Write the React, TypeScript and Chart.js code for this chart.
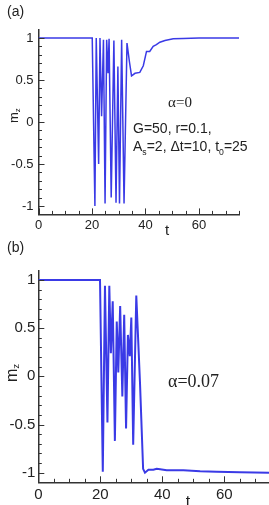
import React, { useEffect, useRef } from 'react';
import { Chart, registerables } from 'chart.js';

Chart.register(...registerables);

// ---- data: panel (a), alpha = 0 ----
const tA = [0, 20.1, 21.1, 21.6, 22.5, 23.0, 23.6, 24.3, 24.9, 25.5, 26.0, 26.4, 27.2, 28.2, 29.0, 29.7, 30.3, 31.1, 32.0, 33.1, 34.0, 34.8, 36.1, 37.9, 39.2, 40.4, 41.6, 42.9, 44.1, 45.4, 47.3, 50.4, 54.1, 60, 75];
const mA = [1, 1, -1.0, 1.0, -0.5, 1.0, 0.07, 0.98, -0.97, 0.98, 0.58, 0.99, -0.9, 0.97, -0.96, 0.66, -0.97, 0.98, -0.97, 0.94, 0.72, 0.55, 0.58, 0.59, 0.67, 0.84, 0.84, 0.9, 0.92, 0.95, 0.97, 0.99, 0.995, 1, 1];

// ---- data: panel (b), alpha = 0.07 ----
const tB = [0, 19.9, 20.8, 21.5, 22.3, 22.9, 23.4, 24.0, 24.7, 25.3, 25.8, 26.4, 27.1, 27.7, 28.3, 28.9, 29.5, 30.0, 30.6, 31.6, 32.8, 33.8, 34.4, 35.5, 37.1, 38.2, 39.3, 41.4, 46.8, 52.2, 57.5, 65, 74.4];
const mB = [1, 1, -0.99, 0.94, -0.48, 0.94, 0.24, 0.78, -0.67, 0.57, 0.04, 0.73, -0.21, 0.64, -0.54, 0.43, 0.21, 0.61, -0.71, 0.84, -0.07, -0.96, -1.0, -0.97, -0.97, -0.96, -0.965, -0.975, -0.975, -0.985, -0.99, -0.995, -1.0];

const xTicks = [0, 20, 40, 60];
const yTicks = [-1, -0.5, 0, 0.5, 1];

const LINE = '#3a3ae6';
const AXIS = '#333333';
const TXT = '#222222';
const SANS = '"Liberation Sans", Arial, Helvetica, sans-serif';
const SERIF = '"Liberation Serif", "Times New Roman", "DejaVu Serif", serif';

type Part = [string, boolean?];

function drawRich(ctx: CanvasRenderingContext2D, parts: Part[], x: number, y: number, size: number, family: string, align: 'left' | 'center' = 'left', subOff = 0.25) {
  const subSize = size * 0.62;
  let w = 0;
  for (const [s, sub] of parts) {
    ctx.font = `${sub ? subSize : size}px ${family}`;
    w += ctx.measureText(s).width;
  }
  let cx = align === 'center' ? x - w / 2 : x;
  ctx.textAlign = 'left';
  ctx.textBaseline = 'alphabetic';
  for (const [s, sub] of parts) {
    ctx.font = `${sub ? subSize : size}px ${family}`;
    ctx.fillText(s, cx, sub ? y + size * subOff : y);
    cx += ctx.measureText(s).width;
  }
}

const inwardTicks = {
  id: 'inwardTicks',
  afterDatasetsDraw(chart: any) {
    const { ctx, chartArea: a, scales } = chart;
    const x = scales.x;
    const y = scales.y;
    ctx.save();
    ctx.strokeStyle = AXIS;
    ctx.lineWidth = 1;
    ctx.beginPath();
    for (let i = 0; i * 5 <= x.max + 1e-9; i++) {
      const v = i * 5;
      const px = Math.round(x.getPixelForValue(v)) + 0.5;
      const len = v % 20 === 0 ? 6 : 3.5;
      ctx.moveTo(px, a.bottom);
      ctx.lineTo(px, a.bottom - len);
    }
    for (let i = -10; i <= 10; i++) {
      const v = i / 10;
      const py = Math.round(y.getPixelForValue(v)) + 0.5;
      const len = i % 5 === 0 ? 6 : 3.5;
      ctx.moveTo(a.left, py);
      ctx.lineTo(a.left + len, py);
    }
    ctx.stroke();
    ctx.restore();
  },
};

function makeConfig(t: number[], m: number[], o: any) {
  return {
    type: 'line',
    data: {
      datasets: [
        {
          data: t.map((v, i) => ({ x: v, y: m[i] })),
          borderColor: LINE,
          borderWidth: o.lw,
          pointRadius: 0,
          tension: 0,
          fill: false,
        },
      ],
    },
    options: {
      animation: false,
      responsive: false,
      maintainAspectRatio: false,
      layout: { padding: o.padding },
      plugins: { legend: { display: false }, tooltip: { enabled: false } },
      scales: {
        x: {
          type: 'linear',
          min: 0,
          max: o.xmax,
          grid: { display: false, drawTicks: false },
          border: { display: true, color: AXIS, width: 1.5 },
          ticks: { padding: o.xpad, color: TXT, font: { family: SANS, size: o.fs }, callback: (v: any) => String(v), maxRotation: 0 },
          afterBuildTicks: (s: any) => { s.ticks = xTicks.map((v) => ({ value: v })); },
          afterFit: (s: any) => { s.height = 20; },
        },
        y: {
          type: 'linear',
          min: -1.1,
          max: 1.1,
          grid: { display: false, drawTicks: false },
          border: { display: true, color: AXIS, width: 1.5 },
          ticks: { padding: o.ypad, color: TXT, font: { family: SANS, size: o.fs }, callback: (v: any) => String(v) },
          afterBuildTicks: (s: any) => { s.ticks = yTicks.map((v) => ({ value: v })); },
          afterFit: (s: any) => { s.width = o.yw; },
        },
      },
    },
    plugins: [inwardTicks, { id: 'txt', afterDraw(chart: any) { const ctx = chart.ctx; ctx.save(); ctx.fillStyle = TXT; o.text(ctx); ctx.restore(); } }],
  };
}

export default function App() {
  const refA = useRef<HTMLCanvasElement>(null);
  const refB = useRef<HTMLCanvasElement>(null);

  useEffect(() => {
    const chartA = new Chart(refA.current as HTMLCanvasElement, makeConfig(tA, mA, {
      lw: 1.5,
      xmax: 75,
      padding: { left: 0, right: 30, top: 29.6, bottom: 5.6 },
      xpad: 3,
      ypad: 5,
      fs: 13,
      yw: 38.5,
      text: (ctx: CanvasRenderingContext2D) => {
        drawRich(ctx, [['(a)']], 7, 16, 14, SANS);
        ctx.save();
        ctx.translate(18, 123);
        ctx.rotate(-Math.PI / 2);
        drawRich(ctx, [['m'], ['z', true]], 0, 0, 13, SANS, 'left', 0.12);
        ctx.restore();
        drawRich(ctx, [['t']], 167, 235, 15, SANS, 'center');
        drawRich(ctx, [['α=0']], 180, 107, 15, SERIF, 'center');
        drawRich(ctx, [['G=50, r=0.1,']], 133, 133, 14, SANS);
        drawRich(ctx, [['A'], ['s', true], ['=2, Δt=10, t'], ['0', true], ['=25']], 133, 151, 14, SANS);
      },
    }) as any);

    const chartB = new Chart(refB.current as HTMLCanvasElement, makeConfig(tB, mB, {
      lw: 2,
      xmax: 74.4,
      padding: { left: 0, right: 0, top: 30.4, bottom: 2.7 },
      xpad: 4,
      ypad: 3,
      fs: 15,
      yw: 38.3,
      text: (ctx: CanvasRenderingContext2D) => {
        drawRich(ctx, [['(b)']], 7, 12, 14, SANS);
        ctx.save();
        ctx.translate(17, 142);
        ctx.rotate(-Math.PI / 2);
        drawRich(ctx, [['m'], ['z', true]], 0, 0, 16, SANS, 'left', 0.12);
        ctx.restore();
        drawRich(ctx, [['t']], 188, 267, 16, SANS, 'center');
        drawRich(ctx, [['α=0.07']], 168, 147, 18, SERIF);
      },
    }) as any);

    return () => {
      chartA.destroy();
      chartB.destroy();
    };
  }, []);

  return (
    <div style={{ position: 'fixed', left: 0, top: 0, width: 269, height: 505, background: '#ffffff', overflow: 'hidden' }}>
      <canvas ref={refA} width={269} height={240} style={{ position: 'absolute', left: 0, top: 0, display: 'block', width: 269, height: 240 }} />
      <canvas ref={refB} width={269} height={265} style={{ position: 'absolute', left: 0, top: 240, display: 'block', width: 269, height: 265 }} />
    </div>
  );
}
